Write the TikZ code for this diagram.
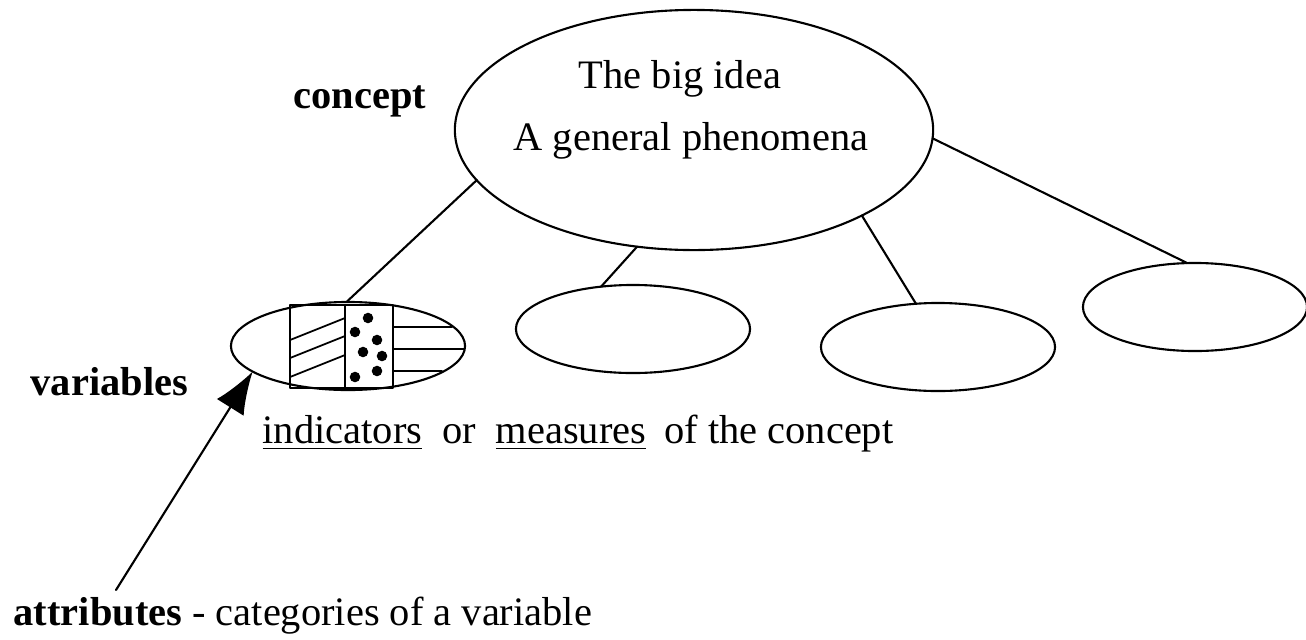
\documentclass[tikz,border=0pt]{standalone}
\usepackage{fontspec}
\setmainfont{Liberation Serif}
\usetikzlibrary{shapes.geometric,arrows.meta}

\begin{document}
\begin{tikzpicture}[x=0.01cm,y=-0.01cm,line cap=round,line join=round,
  oval/.style={ellipse,draw,line width=0.6pt,inner sep=0pt,outer sep=0pt,minimum width=2.34cm,minimum height=0.88cm},
  bigoval/.style={oval,minimum width=4.78cm,minimum height=2.40cm},
  txt/.style={inner sep=0pt,anchor=base west,font=\fontsize{11.5}{13}\selectfont},
  tag/.style={txt,font=\fontsize{11.5}{13}\selectfont\bfseries}]
  \useasboundingbox (0,0) rectangle (1306,639);
  % the big idea
  \node[bigoval] (idea) at (694,130) {};
  \node[txt,anchor=base] (bigidea) at (680,88) {The big idea};
  \node[txt,anchor=base] (general) at (691,150) {A general phenomena};
  \node[tag] (concept) at (293,108) {concept};
  % variables and their links
  \node[oval] (var1) at (348,346) {};
  \node[oval] (var2) at (633,329) {};
  \node[oval] (var3) at (938,347) {};
  \node[oval,minimum width=2.24cm] (var4) at (1195,307) {};
  \draw[line width=0.6pt] (var1.92) -- (idea.193);
  \draw[line width=0.6pt] (var2.127) -- (idea.244);
  \draw[line width=0.6pt] (var3.117) -- (idea.333);
  \draw[line width=0.6pt] (var4.100) -- (idea.358);
  % attributes: hatched, dotted, striped
  \draw[line width=0.6pt] (290,305) rectangle (393,388);
  \draw[line width=0.6pt] (345,305) -- (345,388);
  \draw[line width=0.5pt] (290,340) -- (345,318);
  \draw[line width=0.5pt] (290,358) -- (345,336);
  \draw[line width=0.5pt] (290,377) -- (345,355);
  \draw[line width=0.5pt] (393,327) -- (452,327);
  \draw[line width=0.5pt] (393,349) -- (464,349);
  \draw[line width=0.5pt] (393,371) -- (442,371);
  \foreach \p in {(368,318),(355,332),(377,340),(363,352),(382,356),(377,371),(355,377)}
    \fill \p circle[radius=1.5pt];
  % labels
  \node[tag] (variables) at (30,395) {variables};
  \node[txt] (indicators) at (262,443) {\underline{indicators}\hspace{0.2cm}or\hspace{0.2cm}\underline{measures}\hspace{0.18cm}of the concept};
  \node[txt] (attributes) at (13,625) {\textbf{attributes} - categories of a variable};
  \coordinate (tail) at (116,590);
  \draw[line width=0.6pt,-{Latex[length=12pt,width=9pt]}] (tail) -- (var1.195);
\end{tikzpicture}
\end{document}
